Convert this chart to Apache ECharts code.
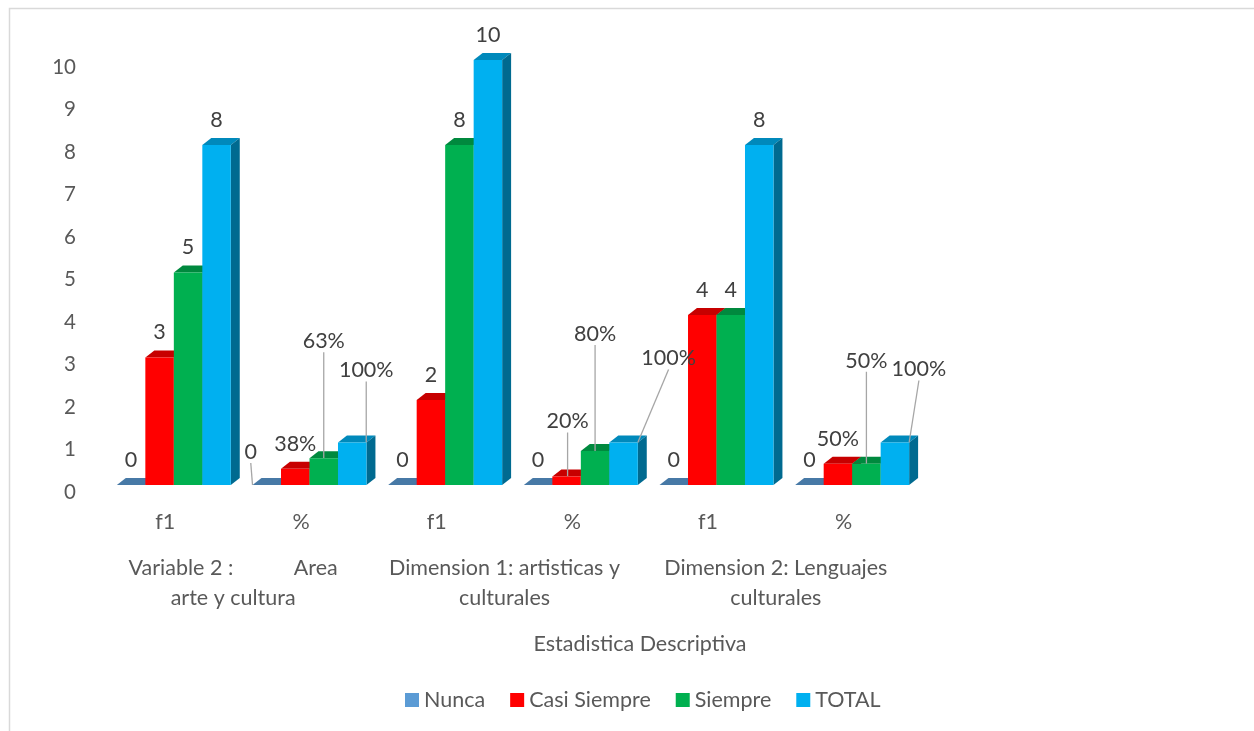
<!DOCTYPE html>
<html><head><meta charset="utf-8">
<script src="https://cdn.jsdelivr.net/npm/echarts@6/dist/echarts.min.js"></script>
<style>html,body{margin:0;padding:0;background:#fff}#c{width:1254px;height:731px}</style>
</head><body><div id="c"></div>
<script>
// ---- data ----
const categories = ['f1', '%', 'f1', '%', 'f1', '%'];
const groupLabels = ['Variable 2 :           Area\narte y cultura', 'Dimension 1: artisticas y\nculturales', 'Dimension 2: Lenguajes\nculturales'];
const axisTitle = 'Estadistica Descriptiva';
const seriesNames = ['Nunca', 'Casi Siempre', 'Siempre', 'TOTAL'];
const nunca = [0, 0, 0, 0, 0, 0];
const casiSiempre = [3, 0.38, 2, 0.2, 4, 0.5];
const siempre = [5, 0.63, 8, 0.8, 4, 0.5];
const total = [8, 1, 10, 1, 8, 1];
const yMin = 0, yMax = 10, yStep = 1;

// ---- styling ----
const allValues = [nunca, casiSiempre, siempre, total];
const colors = ['#5B9BD5', '#FF0000', '#00B050', '#00B0F0'];
const FONT = 'Lato';
const FS = 21.5;
const TXT = '#595959';
const BAR_FRAC = 0.21;
function shade(hex, f) {
  const n = parseInt(hex.slice(1), 16);
  const r = Math.round(((n >> 16) & 255) * f), g = Math.round(((n >> 8) & 255) * f), b = Math.round((n & 255) * f);
  return 'rgb(' + r + ',' + g + ',' + b + ')';
}
// moved labels (with leader lines): key "series-dataIndex" -> [dx, dy]
const moved = {
  '0-1': [-16, -8], '2-1': [0, -92], '3-1': [14, -47],
  '1-3': [1, -30], '2-3': [0, -92], '3-3': [45, -59],
  '2-5': [0, -78], '3-5': [24, -48]
};

const barSeries = allValues.map((vals, si) => ({
  type: 'bar',
  name: seriesNames[si],
  z: 3,
  barWidth: (BAR_FRAC * 100) + '%',
  barGap: '0%',
  itemStyle: { color: colors[si] },
  data: vals.map((v, i) => ({ value: v, labelLine: { show: !!moved[si + '-' + i] } })),
  label: {
    show: true, position: 'top', distance: 14,
    fontFamily: FONT, fontSize: FS, color: '#404040',
    formatter: p => (categories[p.dataIndex] === '%' && p.value > 0) ? Math.round(p.value * 100) + '%' : String(p.value)
  },
  labelLine: { show: false, lineStyle: { color: '#a6a6a6', width: 1.3 } },
  labelLayout: p => {
    const o = moved[p.seriesIndex + '-' + p.dataIndex];
    return o ? { dx: o[0], dy: o[1] } : {};
  }
}));

const depthSeries = allValues.map((vals, si) => ({
  type: 'custom',
  name: seriesNames[si],
  z: 2,
  silent: true,
  itemStyle: { color: colors[si] },
  data: vals.map((v, i) => [i, v]),
  encode: { x: 0, y: 1 },
  renderItem: (params, api) => {
    const cat = api.value(0), v = api.value(1);
    const top = api.coord([cat, v]), base = api.coord([cat, 0]);
    const band = api.size([1, 0])[0];
    const w = band * BAR_FRAC, dx = band * 0.066, dy = band * 0.052;
    const x0 = top[0] + (si - 2) * w, x1 = x0 + w, yt = top[1], yb = base[1];
    const children = [{
      type: 'polygon',
      shape: { points: [[x0, yt], [x1, yt], [x1 + dx, yt - dy], [x0 + dx, yt - dy]] },
      style: { fill: shade(colors[si], 0.78) }
    }];
    if (v > 0) children.push({
      type: 'polygon',
      shape: { points: [[x1, yt], [x1 + dx, yt - dy], [x1 + dx, yb - dy], [x1, yb]] },
      style: { fill: shade(colors[si], 0.6) }
    });
    return { type: 'group', children };
  }
}));

const chart = echarts.init(document.getElementById('c'));
chart.setOption({
  animation: false,
  backgroundColor: '#fff',
  grid: { left: 106, right: 334, top: 60, bottom: 246, outerBoundsMode: 'none', containLabel: false },
  xAxis: [{
    type: 'category', data: categories, position: 'bottom',
    axisLine: { show: false }, axisTick: { show: false },
    axisLabel: { interval: 0, margin: 26, fontFamily: FONT, fontSize: FS, color: TXT, padding: [0, 17, 0, 0] }
  }, {
    type: 'category', data: groupLabels, position: 'bottom',
    axisLine: { show: false }, axisTick: { show: false },
    axisLabel: { interval: 0, margin: 68, lineHeight: 30, fontFamily: FONT, fontSize: FS, color: TXT, padding: [0, 17, 0, 0] }
  }],
  yAxis: {
    type: 'value', min: yMin, max: yMax, interval: yStep,
    axisLine: { show: false }, axisTick: { show: false }, splitLine: { show: false },
    axisLabel: { margin: 30, fontFamily: FONT, fontSize: 20.5, color: TXT, verticalAlign: 'top', lineHeight: 14 }
  },
  legend: {
    data: seriesNames, left: 400, top: 684, icon: 'rect',
    itemWidth: 14, itemHeight: 14, itemGap: 25,
    textStyle: { fontFamily: FONT, fontSize: FS, color: TXT }
  },
  graphic: [
    { type: 'rect', z: -10, silent: true, shape: { x: 9.5, y: 8.5, width: 1400, height: 900 }, style: { fill: 'none', stroke: '#d9d9d9', lineWidth: 1.5 } },
    { type: 'text', x: 640, y: 644, style: { text: axisTitle, fontFamily: FONT, fontSize: FS, fill: TXT, align: 'center', verticalAlign: 'middle' } }
  ],
  series: [...barSeries, ...depthSeries]
});
</script>
</body></html>
